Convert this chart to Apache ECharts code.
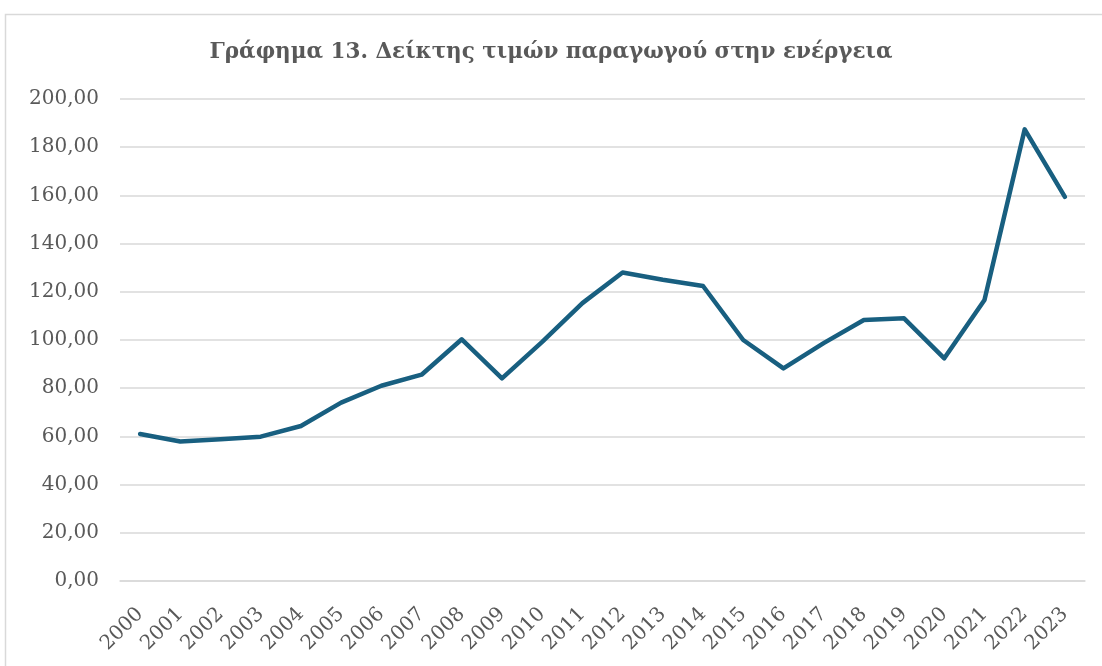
<!DOCTYPE html>
<html>
<head>
<meta charset="utf-8">
<script src="https://cdn.jsdelivr.net/npm/echarts@6/dist/echarts.min.js"></script>
<style>
  html, body { margin: 0; padding: 0; background: #fff; }
  #chart { width: 1102px; height: 666px; }
</style>
</head>
<body>
<div id="chart"></div>
<script>
// Δεδομένα (εκτίμηση από το γράφημα)
const years = ['2000', '2001', '2002', '2003', '2004', '2005', '2006', '2007', '2008', '2009', '2010', '2011',
  '2012', '2013', '2014', '2015', '2016', '2017', '2018', '2019', '2020', '2021', '2022', '2023'];
const indexValues = [61.0, 57.9, 58.8, 59.9, 64.3, 74.0, 81.0, 85.6, 100.3, 84.1, 99.2, 115.3,
  128.0, 125.0, 122.4, 100.0, 88.2, 98.7, 108.3, 109.0, 92.4, 116.6, 187.4, 159.4];
const yTicks = { min: 0, max: 200, step: 20 };
const chartTitle = 'Γράφημα 13. Δείκτης τιμών παραγωγού στην ενέργεια';

const chart = echarts.init(document.getElementById('chart'));

const option = {
  animation: false,
  // πλαίσιο γραφήματος
  graphic: [{
    type: 'rect',
    shape: { x: 5.5, y: 14.5, width: 1120, height: 700 },
    style: { fill: 'none', stroke: '#d9d9d9', lineWidth: 1.5 },
    silent: true
  }],
  title: {
    text: chartTitle,
    left: 'center',
    top: 36,
    textStyle: {
      fontFamily: 'DejaVu Serif',
      fontWeight: 'bold',
      fontSize: 21.5,
      color: '#595959'
    }
  },
  grid: { left: 120, right: 17, top: 99, bottom: 85 },
  xAxis: {
    type: 'category',
    data: years,
    boundaryGap: true,
    axisLine: { lineStyle: { color: '#d9d9d9', width: 1.5 } },
    axisTick: { show: false },
    axisLabel: {
      rotate: 45,
      interval: 0,
      margin: 30,
      fontFamily: 'DejaVu Serif',
      fontSize: 20,
      color: '#595959'
    }
  },
  yAxis: {
    type: 'value',
    min: yTicks.min,
    max: yTicks.max,
    interval: yTicks.step,
    axisLine: { show: false },
    axisTick: { show: false },
    splitLine: { lineStyle: { color: '#d9d9d9', width: 1.5 } },
    axisLabel: {
      margin: 21,
      fontFamily: 'DejaVu Serif',
      fontSize: 20,
      color: '#595959',
      formatter: v => v.toFixed(2).replace('.', ',')
    }
  },
  series: [{
    type: 'line',
    data: indexValues,
    symbol: 'none',
    lineStyle: { color: '#185f80', width: 4.5, join: 'round', cap: 'round' }
  }]
};

chart.setOption(option);
</script>
</body>
</html>
